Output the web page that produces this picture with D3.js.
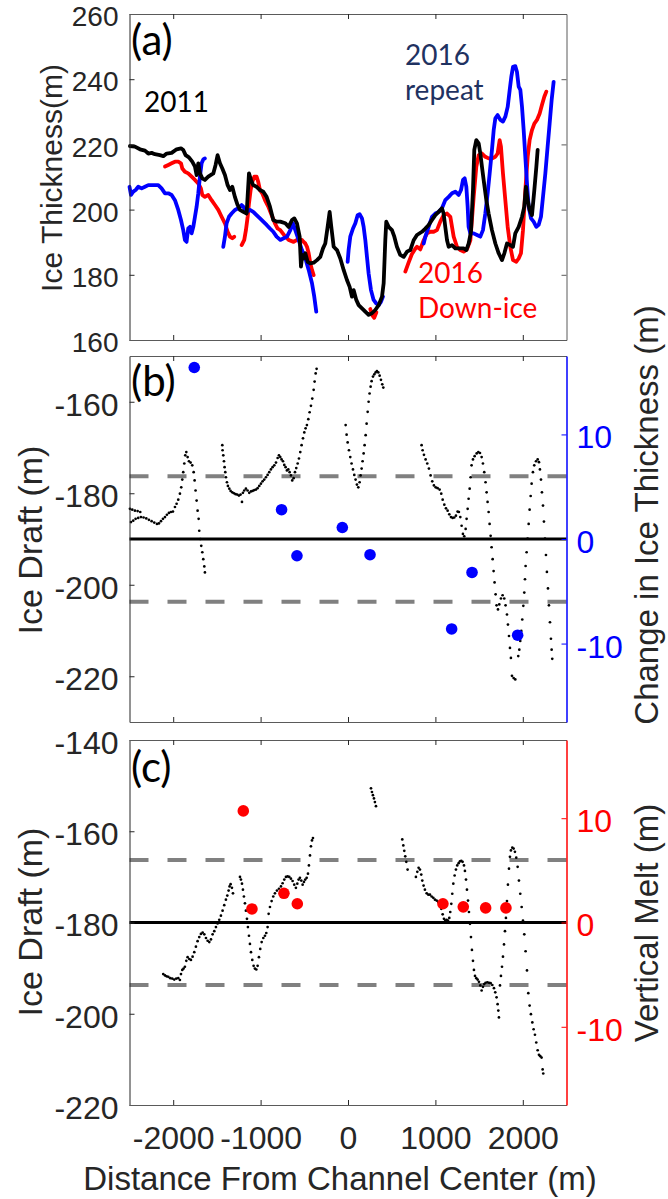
<!DOCTYPE html>
<html>
<head>
<meta charset="utf-8">
<script src="https://cdn.jsdelivr.net/npm/d3@7"></script>
<style>
  html, body { margin: 0; padding: 0; background: #fff; }
  svg { display: block; }
</style>
</head>
<body>
<svg id="fig" width="668" height="1199"></svg>
<script>
// ---------- Panel (a): ice thickness profiles [distance (m), thickness (m)] ----------
const thick2011 = [
  [-2495,219.5],[-2438,219.3],[-2380,218.5],[-2323,218.1],[-2285,217.2],[-2247,217.4],[-2209,217.0],[-2152,216.7],
  [-2113,216.4],[-2075,217.2],[-2018,217.4],[-1961,218.5],[-1911,218.8],[-1885,218.3],[-1858,216.7],[-1820,216.0],
  [-1782,214.7],[-1751,213.2],[-1732,210.6],[-1713,214.2],[-1694,211.1],[-1667,209.6],[-1637,209.1],[-1599,210.1],
  [-1541,211.1],[-1515,213.7],[-1492,216.7],[-1465,214.2],[-1438,212.6],[-1408,210.6],[-1377,207.5],[-1351,206.0],
  [-1324,207.0],[-1294,203.9],[-1263,201.4],[-1236,199.9],[-1198,199.3],[-1160,198.8],[-1133,211.1],[-1110,209.1],
  [-1084,207.5],[-1046,207.0],[-1007,206.0],[-969,205.5],[-931,203.9],[-893,200.9],[-855,196.8],[-817,196.3],
  [-775,196.3],[-717,195.8],[-679,194.7],[-641,196.8],[-614,197.3],[-584,195.8],[-553,191.7],[-538,182.5],
  [-523,186.1],[-508,185.0],[-488,186.6],[-462,184.0],[-431,183.5],[-393,183.7],[-355,184.5],[-317,185.5],
  [-286,188.1],[-260,189.6],[-233,194.7],[-210,199.3],[-191,194.7],[-164,188.6],[-126,187.6],[-88,185.0],
  [-50,181.5],[-12,178.4],[19,176.3],[45,173.3],[65,175.3],[95,172.3],[122,170.7],[160,169.7],[198,168.7],
  [236,167.7],[274,168.2],[312,169.2],[351,170.7],[389,173.3],[408,177.4],[427,190.7],[438,196.3],[465,194.7],
  [503,193.7],[530,191.7],[560,188.6],[598,186.1],[637,185.5],[675,187.1],[713,187.6],[751,190.6],[789,192.2],
  [846,193.2],[885,194.2],[923,195.3],[961,196.8],[999,198.3],[1037,199.3],[1075,200.4],[1094,198.8],
  [1113,194.7],[1133,190.6],[1152,188.6],[1190,189.1],[1228,188.1],[1266,188.1],[1323,188.1],[1354,187.6],
  [1380,189.6],[1407,193.2],[1430,206.0],[1445,218.3],[1468,221.3],[1495,220.3],[1514,217.2],[1533,213.1],
  [1552,209.1],[1583,202.9],[1609,198.8],[1647,193.7],[1686,189.6],[1724,186.6],[1762,184.5],[1789,186.6],
  [1819,189.6],[1857,189.1],[1888,188.6],[1914,192.7],[1953,194.7],[1991,197.8],[2017,200.9],[2036,207.0],
  [2056,202.9],[2078,199.9],[2105,198.3],[2132,206.0],[2155,213.1],[2170,218.3]
];

const thickRepeat = [
  [[-2500,207.0],[-2483,204.5],[-2457,205.5],[-2430,206.0],[-2400,207.0],[-2361,206.5],[-2323,207.0],[-2285,207.5],
   [-2228,207.5],[-2171,207.5],[-2133,206.5],[-2094,205.0],[-2056,205.0],[-2018,204.5],[-1980,202.9],[-1942,199.9],
   [-1911,196.8],[-1885,193.7],[-1866,190.7],[-1847,190.1],[-1828,194.2],[-1808,194.7],[-1789,192.7],[-1770,194.7],
   [-1751,197.8],[-1732,200.9],[-1713,205.0],[-1694,210.1],[-1675,214.2],[-1656,215.4],[-1637,215.7]],
  [[-1427,188.6],[-1408,191.7],[-1389,195.8],[-1362,197.8],[-1332,198.8],[-1294,199.9],[-1255,200.4],[-1217,201.4],
   [-1198,200.9],[-1160,199.3],[-1122,199.9],[-1084,199.3],[-1046,198.3],[-1007,197.3],[-969,196.3],[-931,195.3],
   [-893,194.2],[-855,193.2],[-817,191.7],[-775,190.7],[-736,191.2],[-698,191.7],[-660,193.7],[-630,195.8],
   [-603,193.7],[-565,190.7],[-527,187.6],[-488,185.0],[-450,181.5],[-412,177.4],[-386,173.3],[-363,168.7]],
  [[-4,184.0],[7,187.6],[26,191.7],[57,194.2],[84,195.8],[110,198.3],[133,198.6],[160,197.3],[179,194.7],
   [198,190.7],[217,185.5],[236,180.4],[263,175.3],[293,172.3],[324,171.2],[351,170.7],[377,171.7],[400,173.3]],
  [[866,189.6],[885,191.7],[923,194.7],[961,197.8],[999,198.8],[1037,199.3],[1075,200.4],[1113,202.9],[1152,203.9],
   [1190,205.0],[1228,205.5],[1266,204.5],[1293,206.0],[1316,209.1],[1335,209.6],[1354,207.0],[1369,200.9],
   [1380,194.7],[1400,192.7],[1438,192.7],[1476,192.2],[1514,191.7],[1544,193.7],[1571,198.8],[1598,205.0],
   [1621,211.1],[1647,218.3],[1667,224.4],[1686,228.0],[1712,229.0],[1743,227.5],[1773,227.0],[1800,228.5],
   [1827,231.5],[1850,236.7],[1869,240.8],[1888,243.8],[1914,244.0],[1933,242.3],[1953,237.7],[1972,236.7],
   [1991,231.5],[2010,224.4],[2029,216.2],[2048,208.0],[2067,200.9],[2094,197.3],[2124,196.3],[2155,194.7],
   [2181,195.3],[2208,197.8],[2231,203.9],[2258,211.1],[2284,219.3],[2307,226.4],[2330,233.6],[2353,239.2]]
];

const thickDownIce = [
  [[-2094,213.2],[-2056,213.7],[-2018,214.2],[-1980,214.7],[-1942,214.7],[-1911,214.2],[-1896,212.6],[-1866,211.6],
   [-1828,211.1],[-1789,210.1],[-1751,209.1],[-1713,208.0],[-1683,206.5],[-1667,204.5],[-1637,203.9],[-1599,204.5],
   [-1561,202.9],[-1522,201.4],[-1484,199.9],[-1446,197.8],[-1408,195.8],[-1377,193.2],[-1351,191.7],[-1324,191.2],
   [-1301,191.7]],
  [[-1217,189.1],[-1187,190.7],[-1168,193.7],[-1148,197.8],[-1133,201.9],[-1114,206.0],[-1095,208.5],[-1072,210.1],
   [-1046,210.1],[-1027,208.5],[-1007,206.0],[-981,205.0],[-950,202.9],[-912,200.9],[-874,198.3],[-836,195.8],
   [-805,194.2],[-775,193.7],[-717,191.7],[-679,190.7],[-622,190.1],[-584,190.7],[-527,190.7],[-508,190.1],
   [-488,189.6],[-469,188.6],[-450,186.6],[-431,183.5],[-412,181.5],[-393,179.9]],
  [[255,169.5],[280,167.5],[300,166.8],[325,168.5]],
  [[656,181.0],[690,183.5],[730,186.3],[770,188.0],[789,188.6],[827,187.8],[866,190.6],[904,192.7],[942,193.2],
   [980,193.2],[1018,193.7],[1056,196.3],[1094,198.3],[1133,198.8],[1171,197.8],[1190,194.7],[1209,191.7],
   [1247,188.6],[1285,187.6],[1323,187.1],[1361,187.8],[1400,190.6],[1438,203.9],[1468,213.1],[1495,216.7],
   [1533,217.2],[1571,216.2],[1609,215.7],[1647,215.7],[1686,216.2],[1712,217.2],[1735,221.3],[1750,219.3],
   [1773,211.1],[1800,202.9],[1827,194.7],[1857,188.6],[1888,184.5],[1926,184.0],[1953,185.0],[1979,186.6],
   [2002,193.7],[2029,206.0],[2056,216.2],[2078,221.3],[2105,224.4],[2132,226.4],[2162,227.5],[2193,229.5],
   [2219,232.1],[2246,234.6],[2269,236.2]]
];

// ---------- Panel (b): ice draft soundings and thickness change ----------
const draftB = [
  [-2495,-183.4],[-2468,-183.6],[-2438,-183.8],[-2407,-183.9],[-2377,-184.1],
  [-2483,-186.3],[-2457,-186.0],[-2430,-185.6],[-2400,-185.4],[-2369,-185.2],[-2339,-185.3],[-2308,-185.5],
  [-2278,-185.8],[-2247,-186.1],[-2217,-186.4],[-2186,-186.7],[-2163,-186.6],[-2140,-186.1],[-2117,-185.6],
  [-2094,-185.2],[-2072,-184.7],[-2049,-184.3],[-2026,-184.1],[-2003,-184.0],[-1980,-183.0],[-1961,-182.3],
  [-1942,-181.4],[-1923,-180.1],[-1908,-178.7],[-1896,-177.0],[-1885,-175.4],[-1873,-173.5],[-1862,-171.7],
  [-1850,-171.0],[-1835,-172.1],[-1820,-173.0],[-1801,-173.3],[-1782,-173.9],[-1766,-175.4],[-1755,-177.2],
  [-1744,-179.4],[-1732,-181.6],[-1721,-183.8],[-1709,-185.6],[-1702,-188.2],[-1690,-190.0],[-1679,-191.5],
  [-1667,-192.9],[-1656,-194.4],[-1644,-196.0],[-1637,-197.3],
  [-1438,-169.5],[-1435,-170.6],[-1427,-171.7],[-1419,-173.0],[-1412,-174.3],[-1404,-175.4],[-1397,-176.5],
  [-1385,-177.6],[-1374,-178.4],[-1358,-179.0],[-1343,-179.5],[-1324,-179.8],[-1305,-180.0],[-1286,-180.2],
  [-1267,-180.3],[-1248,-180.5],[-1229,-180.3],[-1213,-181.9],[-1202,-179.9],[-1187,-179.4],[-1168,-179.0],
  [-1149,-179.4],[-1130,-179.9],[-1110,-179.6],[-1091,-179.5],[-1072,-179.3],[-1053,-179.2],[-1034,-178.9],
  [-1015,-178.4],[-996,-177.9],[-977,-177.4],[-958,-177.0],[-939,-176.5],[-920,-176.0],[-901,-175.4],
  [-882,-174.8],[-863,-174.3],[-843,-173.9],[-824,-173.3],[-805,-172.3],[-790,-171.7],[-775,-172.1],
  [-760,-172.6],[-744,-173.0],[-729,-173.8],[-714,-174.3],[-699,-175.0],[-683,-174.8],[-668,-175.4],
  [-653,-176.1],[-638,-177.2],[-622,-176.7],[-607,-175.4],[-592,-174.5],[-576,-173.5],[-561,-172.4],
  [-546,-171.0],[-531,-169.5],[-515,-168.0],[-500,-166.7],[-485,-165.8],[-470,-165.1],[-454,-163.8],
  [-439,-162.3],[-424,-160.9],[-409,-159.3],[-393,-157.4],[-382,-155.6],[-370,-153.8],[-359,-152.8],
  [-27,-165.1],[-16,-167.2],[-4,-168.9],[11,-170.6],[26,-172.1],[41,-173.5],[57,-174.8],[72,-176.0],
  [87,-177.0],[102,-178.1],[118,-178.7],[133,-177.6],[144,-176.1],[156,-174.6],[167,-173.0],[179,-171.3],
  [190,-169.5],[202,-167.3],[213,-164.8],[225,-162.2],[236,-160.0],[247,-158.2],[259,-156.7],[270,-155.5],
  [286,-154.5],[301,-154.0],[316,-153.6],[331,-153.3],[347,-153.6],[362,-154.3],[377,-155.2],[392,-156.2],
  [404,-156.9],
  [842,-169.5],[854,-170.6],[869,-171.6],[888,-172.6],[907,-173.5],[926,-174.6],[945,-176.1],[964,-177.4],
  [983,-178.3],[1003,-178.7],[1025,-178.9],[1048,-179.2],[1067,-180.1],[1083,-181.4],[1102,-182.5],
  [1121,-183.3],[1140,-183.8],[1159,-184.6],[1178,-185.2],[1197,-185.4],[1216,-185.3],[1235,-184.9],
  [1254,-184.0],[1269,-184.1],[1285,-185.2],[1300,-187.1],[1315,-188.9],[1330,-189.4],[1346,-187.8],
  [1357,-185.6],[1369,-183.4],[1380,-181.2],[1392,-179.0],[1403,-176.5],[1414,-173.9],[1430,-172.6],
  [1449,-171.9],[1472,-171.3],[1491,-171.0],[1510,-171.2],[1529,-172.1],[1544,-173.5],[1559,-175.4],
  [1574,-177.6],[1586,-179.8],[1597,-181.9],[1609,-184.1],[1620,-186.7],[1632,-189.3],[1643,-191.8],
  [1655,-194.4],[1666,-197.0],[1677,-199.5],[1689,-202.1],[1700,-204.5],[1716,-205.4],[1731,-204.3],
  [1750,-203.0],[1769,-202.3],[1788,-203.0],[1803,-204.5],[1819,-206.5],[1830,-208.7],[1842,-211.2],
  [1853,-213.8],[1864,-216.0],[1876,-219.9],[1895,-220.4],[1914,-220.7],
  [1948,-215.6],[1960,-214.2],[1971,-212.3],[1983,-210.1],[1994,-207.6],[2006,-204.6],[2017,-201.7],
  [2025,-198.8],[2032,-195.9],[2044,-192.9],[2055,-189.9],[2067,-186.7],[2078,-183.6],[2090,-180.6],
  [2101,-177.9],[2116,-175.4],[2131,-173.9],[2151,-173.0],[2170,-172.6],[2185,-173.2],[2196,-174.8],
  [2208,-177.0],[2219,-179.8],[2231,-182.7],[2242,-186.2],[2254,-189.9],[2265,-193.5],[2276,-197.2],
  [2288,-200.8],[2299,-204.5],[2311,-208.2],[2322,-211.8],[2330,-214.2],[2337,-216.2]
];
const changeX = [-1759, -760, -584, -65, 252, 1186, 1419, 1941];
const changeVal = [16.4, 2.8, -1.6, 1.1, -1.5, -8.6, -3.2, -9.2];

// ---------- Panel (c): ice draft soundings and vertical melt ----------
const draftC = [
  [-2114,-191.3],[-2094,-191.6],[-2075,-191.8],[-2056,-191.9],[-2033,-192.2],[-2011,-192.3],[-1988,-192.5],
  [-1965,-192.3],[-1942,-192.2],[-1923,-192.6],[-1911,-191.3],[-1896,-190.4],[-1881,-190.1],[-1866,-189.7],
  [-1850,-188.4],[-1835,-187.6],[-1816,-188.0],[-1797,-188.2],[-1778,-187.5],[-1759,-186.5],[-1740,-185.3],
  [-1721,-184.1],[-1702,-183.2],[-1683,-182.5],[-1663,-182.2],[-1644,-182.6],[-1625,-183.4],[-1606,-184.0],
  [-1587,-184.3],[-1568,-183.7],[-1549,-182.6],[-1530,-181.9],[-1511,-181.0],[-1492,-180.2],[-1473,-179.4],
  [-1454,-178.5],[-1435,-177.4],[-1416,-176.2],[-1397,-175.0],[-1381,-174.1],[-1366,-173.0],[-1355,-172.1],
  [-1343,-171.6],[-1328,-172.4],[-1316,-173.6],
  [-1236,-170.0],[-1225,-170.6],[-1213,-171.5],[-1202,-172.8],[-1191,-174.3],[-1179,-175.8],[-1168,-177.4],
  [-1156,-179.2],[-1145,-181.0],[-1133,-182.9],[-1122,-184.7],[-1110,-186.5],[-1095,-188.2],[-1080,-189.5],
  [-1065,-190.1],[-1049,-190.3],[-1034,-189.5],[-1019,-187.6],[-1004,-185.8],[-988,-184.3],[-969,-183.4],
  [-950,-182.9],[-935,-182.3],[-920,-181.0],[-908,-178.1],[-893,-176.6],[-874,-175.3],[-855,-174.3],
  [-836,-173.6],[-813,-173.0],[-790,-172.6],[-767,-172.1],[-748,-171.4],[-729,-170.6],[-710,-170.0],
  [-691,-169.9],[-672,-170.0],[-653,-170.4],[-634,-170.9],[-615,-171.7],[-596,-172.4],[-580,-171.5],
  [-565,-170.6],[-550,-170.2],[-535,-170.8],[-519,-171.7],[-504,-171.1],[-489,-170.6],[-473,-170.2],
  [-458,-169.3],[-447,-167.5],[-435,-165.3],[-424,-163.3],[-412,-162.0],[-401,-161.5],
  [263,-150.6],[274,-151.4],[285,-152.1],[297,-152.8],[308,-153.6],[320,-154.5],
  [621,-161.8],[633,-163.1],[644,-164.3],[655,-165.5],[667,-166.7],[682,-168.4],
  [777,-170.0],[793,-168.9],[808,-168.0],[823,-168.4],[838,-169.5],[850,-170.8],[865,-171.9],[880,-172.8],
  [900,-173.6],[919,-173.9],[938,-173.9],[957,-174.3],[976,-174.6],[995,-175.0],[1014,-175.2],[1033,-175.5],
  [1052,-176.0],[1067,-177.0],[1083,-178.2],[1098,-179.2],[1113,-179.6],[1128,-179.4],[1144,-179.6],
  [1159,-179.0],[1170,-177.7],[1182,-175.9],[1193,-173.7],[1205,-171.5],[1220,-169.7],[1235,-168.4],
  [1250,-167.5],[1266,-167.0],[1281,-166.6],[1296,-166.5],[1311,-166.7],[1327,-167.5],[1338,-168.7],
  [1350,-170.6],[1361,-172.8],[1373,-175.2],[1384,-177.7],[1396,-180.3],[1407,-183.2],[1418,-186.0],
  [1430,-188.4],[1441,-190.4],[1453,-191.7],[1468,-192.2],[1483,-192.5],[1498,-193.0],[1514,-193.8],
  [1529,-194.9],[1544,-194.1],[1559,-193.5],[1574,-193.2],[1594,-193.1],[1613,-193.2],[1632,-193.3],
  [1651,-193.7],[1670,-194.4],[1685,-195.3],[1700,-196.4],[1712,-197.9],[1720,-199.3],[1727,-200.8],
  [1739,-193.8],[1750,-191.7],[1762,-189.7],[1773,-187.5],[1785,-184.8],[1796,-181.9],[1807,-179.0],
  [1819,-175.3],[1830,-171.7],[1842,-168.2],[1853,-165.6],[1864,-164.2],[1880,-163.6],[1895,-163.8],
  [1910,-164.5],[1925,-165.8],[1941,-167.8],[1956,-170.8],[1971,-173.7],[1987,-176.6],[2002,-179.6],
  [2017,-182.6],[2032,-186.3],[2048,-190.5],[2063,-195.5],[2078,-198.2],[2093,-200.1],[2109,-201.9],
  [2124,-203.4],[2139,-204.6],[2154,-206.3],[2170,-208.0],[2185,-209.0],[2200,-209.3],[2215,-209.6],
  [2227,-212.2],[2234,-213.1]
];
const meltX = [-1198, -1099, -733, -580, 1086, 1319, 1575, 1807];
const meltVal = [10.7, 1.3, 2.8, 1.8, 1.8, 1.5, 1.4, 1.4];

// ---------- Tick values ----------
const xTicks = [-2000, -1000, 0, 1000, 2000];
const yTicksA = [160, 180, 200, 220, 240, 260];
const yTicksB = [-220, -200, -180, -160];
const yTicksC = [-220, -200, -180, -160, -140];
const rightTicks = [-10, 0, 10];
const bandLimits = [-6, 6];

// ---------- Layout ----------
const AXIS = "#262626";
const FONT = "'Liberation Sans', Arial, Helvetica, sans-serif";
const NOTE_FONT = "Lato, 'Open Sans', sans-serif";
const L = 129.5, R = 566.5;
const svg = d3.select("#fig");
svg.append("rect").attr("width", 668).attr("height", 1199).attr("fill", "#fff");

const x = d3.scaleLinear().domain([-2500, 2500]).range([L, R]);
const yA = d3.scaleLinear().domain([160, 260]).range([340, 14]);
const yB = d3.scaleLinear().domain([-230, -150]).range([722, 356]);
const yBr = d3.scaleLinear().domain([-17.5, 17.5]).range([722, 356]);
const yC = d3.scaleLinear().domain([-220, -140]).range([1105, 740]);
const yCr = d3.scaleLinear().domain([-17.5, 17.5]).range([1105, 740]);

function styleAxis(g, color, size) {
  g.attr("color", color);
  g.selectAll("text").attr("font-family", FONT).attr("font-size", size).attr("fill", color);
  g.selectAll("path.domain").attr("stroke-width", 1);
}

// frame of one panel: left axis with labels, top/bottom tick rows, right axis
function frame(y, ticks, size, top, bottom, showX, right) {
  const gl = svg.append("g").attr("transform", `translate(${L},0)`)
    .call(d3.axisLeft(y).tickValues(ticks).tickSize(-5).tickSizeOuter(0).tickPadding(11)
      .tickFormat(d => String(d)));
  gl.selectAll("text").attr("dy", "0.42em");
  styleAxis(gl, AXIS, size);

  const gt = svg.append("g").attr("transform", `translate(0,${top})`)
    .call(d3.axisTop(x).tickValues(xTicks).tickSize(-5).tickSizeOuter(0).tickFormat(""));
  styleAxis(gt, AXIS, size);
  gt.select("path.domain").attr("stroke", "#5a5a5a");

  const gb = svg.append("g").attr("transform", `translate(0,${bottom})`)
    .call(d3.axisBottom(x).tickValues(xTicks).tickSize(-5).tickSizeOuter(0).tickPadding(21)
      .tickFormat(showX ? (d => String(d)) : ""));
  styleAxis(gb, AXIS, size);
  gb.select("path.domain").attr("stroke", "#5a5a5a");

  if (right) {
    const gr = svg.append("g").attr("transform", `translate(${R},0)`)
      .call(d3.axisRight(right.scale).tickValues(right.ticks).tickSize(-5).tickSizeOuter(0)
        .tickPadding(10).tickFormat(right.labels ? (d => String(d)) : ""));
    gr.selectAll("text").attr("dy", "0.42em");
    styleAxis(gr, right.color, size);
    gr.select("path.domain").attr("stroke-width", right.width || 1);
  }
}

// ---------- Panel (a) ----------
const lineA = d3.line().x(d => x(d[0])).y(d => yA(d[1]));
const gA = svg.append("g");
thickDownIce.forEach(seg => gA.append("path").datum(seg).attr("d", lineA)
  .attr("fill", "none").attr("stroke", "#ff0000").attr("stroke-width", 3.8)
  .attr("stroke-linejoin", "round").attr("stroke-linecap", "round"));
thickRepeat.forEach(seg => gA.append("path").datum(seg).attr("d", lineA)
  .attr("fill", "none").attr("stroke", "#0000ff").attr("stroke-width", 3.8)
  .attr("stroke-linejoin", "round").attr("stroke-linecap", "round"));
gA.append("path").datum(thick2011).attr("d", lineA)
  .attr("fill", "none").attr("stroke", "#000").attr("stroke-width", 3.8)
  .attr("stroke-linejoin", "round").attr("stroke-linecap", "round");

frame(yA, yTicksA, 28, 14, 340, false,
  { scale: yA, ticks: [180, 200, 220, 240], color: "#5a5a5a", labels: false });

// ---------- Panel (b) ----------
function bandLines(yr) {
  const g = svg.append("g");
  g.selectAll("line.band").data(bandLimits).join("line")
    .attr("x1", L).attr("x2", R).attr("y1", d => yr(d)).attr("y2", d => yr(d))
    .attr("stroke", "#808080").attr("stroke-width", 4).attr("stroke-dasharray", "19 19");
  g.append("line").attr("x1", L).attr("x2", R).attr("y1", yr(0)).attr("y2", yr(0))
    .attr("stroke", "#000").attr("stroke-width", 2.8);
}

bandLines(yBr);
svg.append("g").selectAll("circle").data(draftB).join("circle")
  .attr("cx", d => x(d[0])).attr("cy", d => yB(d[1])).attr("r", 1.35).attr("fill", "#000");
svg.append("g").selectAll("circle").data(changeX).join("circle")
  .attr("cx", d => x(d)).attr("cy", (d, i) => yBr(changeVal[i])).attr("r", 5.8).attr("fill", "#0000ff");
frame(yB, yTicksB, 32, 356, 722, false,
  { scale: yBr, ticks: rightTicks, color: "#0000ff", labels: true, width: 1.5 });

// ---------- Panel (c) ----------
bandLines(yCr);
svg.append("g").selectAll("circle").data(draftC).join("circle")
  .attr("cx", d => x(d[0])).attr("cy", d => yC(d[1])).attr("r", 1.35).attr("fill", "#000");
svg.append("g").selectAll("circle").data(meltX).join("circle")
  .attr("cx", d => x(d)).attr("cy", (d, i) => yCr(meltVal[i])).attr("r", 5.8).attr("fill", "#ff0000");
frame(yC, yTicksC, 32, 740, 1105, true,
  { scale: yCr, ticks: rightTicks, color: "#ff0000", labels: true, width: 1.5 });

// ---------- Axis titles ----------
function vLabel(tx, ty, text, size) {
  svg.append("text").attr("transform", `translate(${tx},${ty}) rotate(-90)`)
    .attr("text-anchor", "middle").attr("font-family", FONT).attr("font-size", size)
    .attr("fill", AXIS).text(text);
}
vLabel(62, 178, "Ice Thickness(m)", 30);
vLabel(42, 540, "Ice Draft (m)", 34);
vLabel(42, 922, "Ice Draft (m)", 34);
vLabel(658, 515, "Change in Ice Thickness (m)", 33);
vLabel(658, 923, "Vertical Melt (m)", 33);

svg.append("text").attr("x", 340).attr("y", 1190).attr("text-anchor", "middle")
  .attr("font-family", FONT).attr("font-size", 33).attr("fill", AXIS)
  .text("Distance From Channel Center (m)");

// ---------- Panel letters and series notes ----------
function note(tx, ty, text, size, color) {
  svg.append("text").attr("x", tx).attr("y", ty).attr("font-family", NOTE_FONT)
    .attr("font-size", size).attr("fill", color).text(text);
}
note(131, 55, "(a)", 42, "#000");
note(131, 396, "(b)", 42, "#000");
note(131, 782, "(c)", 42, "#000");
note(144, 112, "2011", 28, "#000");
note(405, 65, "2016", 28, "#1f3261");
note(405, 100, "repeat", 28, "#1f3261");
note(418, 283, "2016", 28, "#ff0000");
note(418, 318, "Down-ice", 28, "#ff0000");
</script>
</body>
</html>
